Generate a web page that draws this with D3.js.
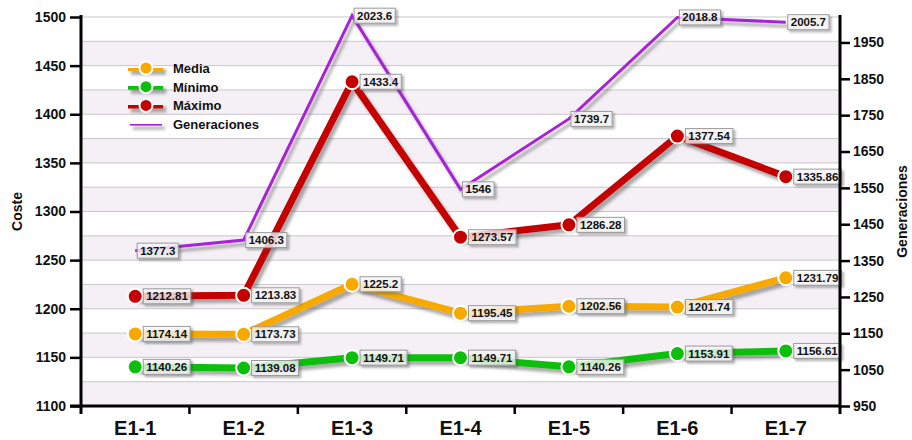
<!DOCTYPE html>
<html>
<head>
<meta charset="utf-8">
<script src="https://cdn.jsdelivr.net/npm/d3@7/dist/d3.min.js"></script>
<style>
  html, body { margin: 0; padding: 0; background: #ffffff; }
  svg { display: block; font-family: "Liberation Sans", Arial, sans-serif; }
</style>
</head>
<body>
<svg id="chart" width="912" height="440"></svg>
<script>
// Experiment categories
const categories = ["E1-1", "E1-2", "E1-3", "E1-4", "E1-5", "E1-6", "E1-7"];

// Cost series (left axis)
const media  = [1174.14, 1173.73, 1225.2, 1195.45, 1202.56, 1201.74, 1231.79];
const minimo = [1140.26, 1139.08, 1149.71, 1149.71, 1140.26, 1153.91, 1156.61];
const maximo = [1212.81, 1213.83, 1433.4, 1273.57, 1286.28, 1377.54, 1335.86];

// Generations (right axis)
const generaciones = [1377.3, 1406.3, 2023.6, 1546, 1739.7, 2018.8, 2005.7];

// Axis ticks
const leftTicks  = [1100, 1150, 1200, 1250, 1300, 1350, 1400, 1450, 1500];
const rightTicks = [950, 1050, 1150, 1250, 1350, 1450, 1550, 1650, 1750, 1850, 1950];
const gridStep = 25;

const seriesNames  = ["Media", "Mínimo", "Máximo", "Generaciones"];
const seriesColors = ["#f7a900", "#0cbf0c", "#c40000", "#a822d6"];

const W = 912, H = 440;
const svg = d3.select("#chart");
const plotL = 81, plotR = 840, plotT = 17, plotB = 406;

const x  = d3.scaleBand().domain(categories).range([plotL, plotR]);
const cx = c => x(c) + x.bandwidth() / 2;
const yL = d3.scaleLinear().domain([1100, 1500]).range([plotB, plotT]);
const yR = d3.scaleLinear().domain([950, 2020]).range([plotB, plotT]);

// Drop shadow filters (user-space regions so flat lines keep their shadow)
const defs = svg.append("defs");
function shadowFilter(id, dx, dy, sd, op) {
  defs.append("filter").attr("id", id)
    .attr("filterUnits", "userSpaceOnUse")
    .attr("x", 0).attr("y", 0).attr("width", W).attr("height", H)
    .append("feDropShadow").attr("dx", dx).attr("dy", dy).attr("stdDeviation", sd)
    .attr("flood-color", "#444").attr("flood-opacity", op);
}
shadowFilter("shadow", 3, 4, 1.6, 0.45);
shadowFilter("boxshadow", 2, 2, 1.2, 0.5);

// Alternating background bands and grid lines
const gridVals = d3.range(1100, 1500 + 1, gridStep);
svg.append("g").selectAll("rect")
  .data(gridVals.slice(0, -1))
  .join("rect")
  .attr("x", plotL).attr("width", plotR - plotL)
  .attr("y", d => yL(d + gridStep)).attr("height", d => yL(d) - yL(d + gridStep))
  .attr("fill", (d, i) => ((gridVals.length - 2 - i) % 2 === 0) ? "#ffffff" : "#f4f0f5");
svg.append("g").selectAll("line")
  .data(gridVals)
  .join("line")
  .attr("x1", plotL).attr("x2", plotR)
  .attr("y1", d => yL(d)).attr("y2", d => yL(d))
  .attr("stroke", "#c9c6c9").attr("stroke-width", 1);

// Lines
const cost = [media, minimo, maximo];
const lineL = d3.line().x((d, i) => cx(categories[i])).y(d => yL(d));
const lineR = d3.line().x((d, i) => cx(categories[i])).y(d => yR(d));

const plot = svg.append("g");
plot.append("path").datum(generaciones)
  .attr("d", lineR).attr("fill", "none")
  .attr("stroke", seriesColors[3]).attr("stroke-width", 3)
  .attr("stroke-linejoin", "miter").attr("filter", "url(#shadow)");

[2, 0, 1].forEach(k => {
  const g = plot.append("g");
  g.append("path").datum(cost[k])
    .attr("d", lineL).attr("fill", "none")
    .attr("stroke", seriesColors[k]).attr("stroke-width", 7)
    .attr("stroke-linejoin", "round").attr("filter", "url(#shadow)");
  g.selectAll("circle").data(cost[k]).join("circle")
    .attr("cx", (d, i) => cx(categories[i])).attr("cy", d => yL(d))
    .attr("r", 7.5).attr("fill", seriesColors[k])
    .attr("stroke", "#ffffff").attr("stroke-width", 2);
});

// Value labels
const labels = svg.append("g").attr("font-size", 11.5).attr("font-weight", "bold");
function addLabel(xp, yp, val, offset) {
  const g = labels.append("g");
  const t = g.append("text").attr("x", xp + offset + 3).attr("y", yp + 4)
    .attr("fill", "#111").text(val);
  const w = t.node().getComputedTextLength();
  g.insert("rect", "text")
    .attr("x", xp + offset).attr("y", yp - 7.5)
    .attr("width", w + 6).attr("height", 15)
    .attr("fill", "#ffffff").attr("fill-opacity", 0.72)
    .attr("stroke", "#9a9a9a").attr("stroke-width", 1)
    .attr("filter", "url(#boxshadow)");
}
cost.forEach(arr => arr.forEach((v, i) => addLabel(cx(categories[i]), yL(v), v, 8)));
generaciones.forEach((v, i) => addLabel(cx(categories[i]), yR(v), v, 2));

// Axes
const axisStyle = g => {
  g.selectAll(".domain").remove();
  g.selectAll(".tick line").attr("stroke", "#000").attr("stroke-width", 2.5);
  g.selectAll(".tick text").attr("fill", "#111").attr("font-weight", "bold")
    .attr("font-family", "'Liberation Sans', Arial, sans-serif");
};
svg.append("g").attr("transform", `translate(${plotL},0)`)
  .call(d3.axisLeft(yL).tickValues(leftTicks).tickSize(11).tickPadding(4).tickFormat(d3.format("d")))
  .call(axisStyle)
  .selectAll(".tick text").attr("font-size", 14);
svg.append("g").attr("transform", `translate(${plotR},0)`)
  .call(d3.axisRight(yR).tickValues(rightTicks).tickSize(10).tickPadding(3).tickFormat(d3.format("d")))
  .call(axisStyle)
  .selectAll(".tick text").attr("font-size", 14);
const xAxis = svg.append("g").attr("transform", `translate(0,${plotB})`)
  .call(d3.axisBottom(x).tickSize(0).tickPadding(15))
  .call(axisStyle);
xAxis.selectAll(".tick text").attr("font-size", 20).attr("dy", "0.71em");

// Category separators on the x axis
svg.append("g").selectAll("line")
  .data(categories.slice(1))
  .join("line")
  .attr("x1", d => x(d)).attr("x2", d => x(d))
  .attr("y1", plotB).attr("y2", plotB + 8)
  .attr("stroke", "#000").attr("stroke-width", 2.5);

// Axis lines
const axisLines = svg.append("g").attr("stroke", "#000").attr("stroke-width", 3);
axisLines.append("line").attr("x1", plotL).attr("x2", plotL).attr("y1", plotT - 2).attr("y2", plotB + 8);
axisLines.append("line").attr("x1", plotR).attr("x2", plotR).attr("y1", plotT - 2).attr("y2", plotB + 8);
axisLines.append("line").attr("x1", plotL - 11).attr("x2", plotR).attr("y1", plotB).attr("y2", plotB);

// Axis titles
svg.append("text").attr("transform", `translate(22,${(plotT + plotB) / 2}) rotate(-90)`)
  .attr("text-anchor", "middle").attr("font-size", 14).attr("font-weight", "bold")
  .attr("fill", "#111").text("Coste");
svg.append("text").attr("transform", `translate(907,${(plotT + plotB) / 2}) rotate(-90)`)
  .attr("text-anchor", "middle").attr("font-size", 14).attr("font-weight", "bold")
  .attr("fill", "#111").text("Generaciones");

// Legend
const legend = svg.append("g").attr("transform", "translate(128,68)");
seriesNames.forEach((name, i) => {
  const g = legend.append("g").attr("transform", `translate(0,${i * 18.7})`);
  if (i < 3) {
    g.append("line").attr("x1", 0).attr("x2", 35).attr("y1", 0).attr("y2", 0)
      .attr("stroke", seriesColors[i]).attr("stroke-width", 6).attr("filter", "url(#shadow)");
    g.append("circle").attr("cx", 18).attr("cy", 0).attr("r", 6.5)
      .attr("fill", seriesColors[i]).attr("stroke", "#fff").attr("stroke-width", 2);
  } else {
    g.append("line").attr("x1", 2).attr("x2", 34).attr("y1", 0).attr("y2", 0)
      .attr("stroke", seriesColors[i]).attr("stroke-width", 3).attr("filter", "url(#shadow)");
  }
  g.append("text").attr("x", 45).attr("y", 5).attr("font-size", 13)
    .attr("font-weight", "bold").attr("fill", "#111").text(name);
});
</script>
</body>
</html>
